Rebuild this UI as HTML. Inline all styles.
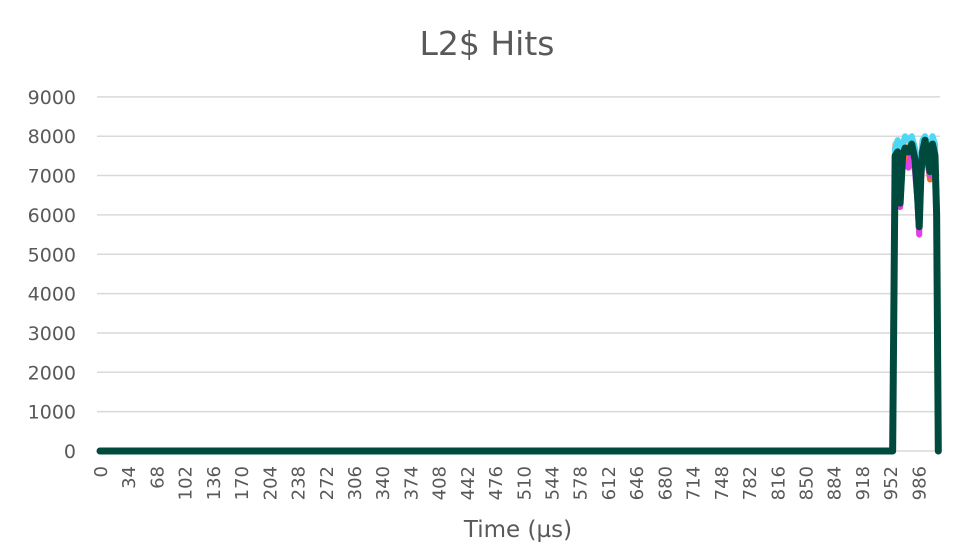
<!DOCTYPE html>
<html><head><meta charset="utf-8">
<style>
html,body{margin:0;padding:0;background:#fff;}
svg{display:block;font-family:"DejaVu Sans","Liberation Sans",sans-serif;}
</style></head>
<body>
<svg id="chart" width="968" height="554" viewBox="0 0 968 554">
  <text x="487" y="55" text-anchor="middle" font-size="33" fill="#595959">L2$ Hits</text>
  <g id="grid"></g>
  <g id="yticks"></g>
  <g id="xticks"></g>
  <g id="series"></g>
  <text x="518" y="537" text-anchor="middle" font-size="23" fill="#595959">Time (µs)</text>
</svg>
<script>
const yTicks = [0,1000,2000,3000,4000,5000,6000,7000,8000,9000];
const xTickLabels = [0,34,68,102,136,170,204,238,272,306,340,374,408,442,476,510,544,578,612,646,680,714,748,782,816,850,884,918,952,986];
const times = [0,955,958,961,964,967,970,974,978,982,985,987,989,991,994,997,1000,1003,1006,1008,1010];
const seriesDark    = [0,0,7500,7600,6300,7500,7700,7600,7800,7400,6500,5700,7000,7600,7900,7500,7100,7800,7500,6000,0];
const seriesCyan    = [0,0,7700,7900,6600,7800,8000,7900,8000,7700,6800,6000,7400,7900,8000,7800,7300,8000,7800,6200,0];
const seriesMagenta = [0,0,7300,7500,6200,7300,7300,7200,7600,7100,6300,5500,6900,7400,7800,7300,7000,7600,7300,5900,0];
const seriesOrange  = [0,0,7400,7500,6200,7400,7500,7400,7600,7200,6400,5700,7000,7500,7900,7400,6900,7700,7400,6000,0];
const seriesPeach   = [0,0,7800,7800,6500,7700,7900,7800,7900,7600,6700,5900,7300,7800,8000,7700,7200,7900,7700,6100,0];

const NS="http://www.w3.org/2000/svg";
const x0=100, xPerUnit=0.83, y0=451, yPerUnit=39.35/1000;
const xs = t => x0 + t*xPerUnit;
const ys = v => y0 - v*yPerUnit;

const grid=document.getElementById('grid');
const yt=document.getElementById('yticks');
yTicks.forEach(v=>{
  const l=document.createElementNS(NS,'line');
  l.setAttribute('x1',97);l.setAttribute('x2',940);
  l.setAttribute('y1',ys(v));l.setAttribute('y2',ys(v));
  l.setAttribute('stroke','#d9d9d9');l.setAttribute('stroke-width','1.5');
  
  
  grid.appendChild(l);
  const t=document.createElementNS(NS,'text');
  t.setAttribute('x',76);t.setAttribute('y',ys(v)+7);
  t.setAttribute('text-anchor','end');t.setAttribute('font-size','19');t.setAttribute('fill','#595959');
  t.textContent=v;
  
  
  yt.appendChild(t);
});
const xt=document.getElementById('xticks');
xTickLabels.forEach(v=>{
  const t=document.createElementNS(NS,'text');
  const x=xs(v)+7, y=466;
  t.setAttribute('transform','translate('+x+','+y+') rotate(-90)');
  t.setAttribute('text-anchor','end');t.setAttribute('font-size','18');t.setAttribute('fill','#595959');
  t.textContent=v;
  
  
  xt.appendChild(t);
});
const sg=document.getElementById('series');
function draw(vals,color,w,name){
  const p=document.createElementNS(NS,'polyline');
  p.setAttribute('points',times.map((t,i)=>xs(t)+','+ys(vals[i])).join(' '));
  p.setAttribute('fill','none');p.setAttribute('stroke',color);p.setAttribute('stroke-width',w);
  p.setAttribute('stroke-linejoin','round');p.setAttribute('stroke-linecap','round');
  
  
  sg.appendChild(p);
}
draw(seriesPeach,'#f5c28f',6,'series-peach');
draw(seriesOrange,'#f26b2a',6,'series-orange');
draw(seriesMagenta,'#e040e8',6,'series-magenta');
draw(seriesCyan,'#4dd9f5',6,'series-cyan');
draw(seriesDark,'#004a3d',7,'series-dark');
</script>
</body></html>
